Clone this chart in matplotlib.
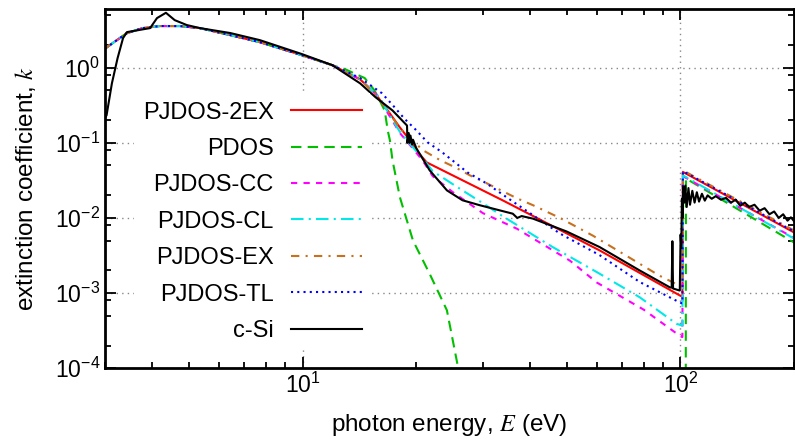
import numpy as np
import matplotlib
matplotlib.use('Agg')
import matplotlib.pyplot as plt
from matplotlib.ticker import LogLocator, NullFormatter

plt.rcParams['font.family'] = ['Liberation Sans', 'DejaVu Sans']
plt.rcParams['mathtext.fontset'] = 'stix'

# common part of the model curves, 3 - 12 eV
E_base = [3.0, 3.43, 3.78, 4.19, 4.73, 5.35, 6.43, 7.71, 9.96, 12.0]
k_base = [1.80, 2.89, 3.37, 3.59, 3.59, 3.37, 2.72, 2.19, 1.47, 1.08]

# model tails below the Si L edge
E_2ex = [14.2, 15.6, 16.8, 18.1, 19.2, 20.0, 21.3, 33.9, 61.1, 99.6, 101.0]
k_2ex = [0.70, 0.45, 0.27, 0.16, 0.11, 0.08, 0.055, 0.0171, 0.0037, 0.00093, 0.0009]
E_pdos = [13.0, 14.0, 14.6, 15.5, 16.5, 16.8, 17.03, 17.3, 18.1, 19.6, 21.7, 24.1, 25.8, 26.3]
k_pdos = [0.95, 0.80, 0.73, 0.50, 0.27, 0.147, 0.108, 0.0586, 0.0188, 0.0050, 0.0018, 0.00059, 0.000102, 0.00007]
E_cc = [14.2, 16.0, 16.8, 18.1, 19.2, 20.8, 22.1, 25.0, 30.0, 36.9, 51.0, 60.1, 80.0, 99.6, 101.0]
k_cc = [0.70, 0.40, 0.25, 0.135, 0.095, 0.058, 0.036, 0.022, 0.0116, 0.0072, 0.0027, 0.00138, 0.0006, 0.00027, 0.00026]
E_cl = [14.2, 16.0, 16.8, 18.1, 19.2, 20.8, 22.1, 25.6, 30.0, 33.9, 45.9, 60.1, 78.0, 97.6, 101.0]
k_cl = [0.70, 0.40, 0.26, 0.14, 0.098, 0.062, 0.042, 0.026, 0.0157, 0.0105, 0.0041, 0.0019, 0.00088, 0.00039, 0.00037]
E_ex = [14.2, 15.6, 16.8, 18.1, 20.8, 23.1, 25.6, 27.7, 30.7, 36.9, 40.7, 48.0, 58.7, 88.1, 99.6, 101.0]
k_ex = [0.70, 0.44, 0.27, 0.156, 0.08, 0.059, 0.046, 0.037, 0.029, 0.0183, 0.0148, 0.0100, 0.0058, 0.0017, 0.00125, 0.0012]
E_tl = [14.2, 16.2, 17.3, 18.6, 20.0, 21.4, 23.4, 25.3, 27.3, 30.7, 34.7, 48.0, 61.1, 78.1, 99.6, 101.0]
k_tl = [0.73, 0.46, 0.32, 0.21, 0.147, 0.102, 0.075, 0.055, 0.0405, 0.0288, 0.0188, 0.0062, 0.0032, 0.0014, 0.00075, 0.00073]

# above the edge (models jump up vertically at the edge)
E_post = [101.2, 101.5, 200.0]
k_post_2ex = [0.0009, 0.041, 0.0064]
k_post_cc = [0.00026, 0.036, 0.0054]
k_post_cl = [0.00037, 0.037, 0.0053]
k_post_ex = [0.0012, 0.043, 0.0068]
k_post_tl = [0.00073, 0.042, 0.0066]
E_post_pdos = [103.3, 103.4, 200.0]
k_post_pdos = [0.00005, 0.0335, 0.0047]

# measured c-Si
E_si = [3.0, 3.03, 3.13, 3.24, 3.35, 3.43, 3.95, 4.12, 4.35, 4.59, 4.94, 5.35, 6.43, 7.71,
        9.96, 12.0, 14.2, 15.6, 17.3, 18.9, 18.95, 19.1, 19.2, 19.3, 19.5, 19.6, 20.0,
        21.7, 24.1, 26.5, 29.4, 33.3, 36.0, 37.0, 38.0, 40.7, 50.0, 61.1, 78.0, 93.8,
        94.8, 95.2, 95.6, 99.6, 100.1, 100.5, 100.9, 101.3, 101.8, 102.4, 103.0, 103.9,
        105.0, 106.0, 107.5, 109.0, 110.5, 112.0, 114.0, 116.0, 118.0, 121.0, 124.0,
        128.0, 132.0, 136.0, 140.0, 144.0, 148.0, 152.0, 157.0, 162.0, 167.0, 172.0,
        177.0, 182.0, 187.0, 192.0, 196.0, 200.0]
k_si = [0.213, 0.233, 0.62, 1.34, 2.48, 2.98, 3.37, 4.58, 5.39, 4.3, 3.7, 3.37, 2.9, 2.33,
        1.52, 1.08, 0.62, 0.405, 0.27, 0.17, 0.10, 0.135, 0.10, 0.125, 0.095, 0.11, 0.085,
        0.043, 0.0233, 0.0172, 0.0148, 0.0126, 0.0114, 0.0100, 0.0106, 0.0098, 0.0066, 0.0041,
        0.0020, 0.00119, 0.00118, 0.0049, 0.00115, 0.00108, 0.006, 0.004, 0.018, 0.010, 0.026,
        0.016, 0.027, 0.014, 0.025, 0.015, 0.023, 0.016, 0.022, 0.0165, 0.021, 0.017, 0.020,
        0.018, 0.0195, 0.0175, 0.0185, 0.016, 0.0175, 0.0145, 0.016, 0.014, 0.015, 0.0125,
        0.0135, 0.0112, 0.0122, 0.0100, 0.0112, 0.0092, 0.0102, 0.0090]

labels = ['PJDOS-2EX', 'PDOS', 'PJDOS-CC', 'PJDOS-CL', 'PJDOS-EX', 'PJDOS-TL', 'c-Si']
colors = ['#ff0000', '#00c000', '#ff00ff', '#00e8e8', '#c8701e', '#0000ff', '#000000']
styles = ['-', (0, (5, 3)), (0, (3, 3)), (0, (6, 2.5, 1, 2.5)), (0, (4, 3, 1, 3)), (0, (1, 2)), '-']


def join(E_pre, k_pre, E_post, k_post):
    # pdos drops out below the axis before the edge, the others connect through it
    gap = [np.nan] if E_post[0] > 103 else []
    E = E_base + E_pre + gap + E_post
    k = k_base + k_pre + gap + k_post
    return E, k


curves = [
    join(E_2ex, k_2ex, E_post, k_post_2ex),
    join(E_pdos, k_pdos, E_post_pdos, k_post_pdos),
    join(E_cc, k_cc, E_post, k_post_cc),
    join(E_cl, k_cl, E_post, k_post_cl),
    join(E_ex, k_ex, E_post, k_post_ex),
    join(E_tl, k_tl, E_post, k_post_tl),
    (E_si, k_si),
]

fig = plt.figure(figsize=(7.95, 4.42), dpi=100)
ax = fig.add_axes([0.132, 0.167, 0.867, 0.812])

for (E, k), lab, c, ls in zip(curves, labels, colors, styles):
    ax.plot(E, k, color=c, ls=ls, lw=1.5, label=lab)

ax.set_xscale('log')
ax.set_yscale('log')
ax.set_xlim(3.0, 200)
ax.set_ylim(1e-4, 6)

ax.yaxis.set_minor_locator(LogLocator(base=10, subs=[2, 5, 8]))
ax.yaxis.set_minor_formatter(NullFormatter())
ax.xaxis.set_minor_formatter(NullFormatter())
ax.tick_params(which='both', direction='in', top=True, right=True, labelsize=16.5)
ax.tick_params(which='major', length=8, width=1.3)
ax.tick_params(which='minor', length=4.5, width=1.3)
for s in ax.spines.values():
    s.set_linewidth(2)
ax.grid(True, which='major', ls=(0, (1, 3)), color='#888888', lw=1)

ax.set_xlabel('photon energy, $E$ (eV)', fontsize=17.5, labelpad=10)
ax.set_ylabel('extinction coefficient, $k$', fontsize=17.5, labelpad=12)

leg = ax.legend(loc='upper right', bbox_to_anchor=(0.385, 0.766), fontsize=17,
                markerfirst=False, frameon=True, fancybox=False, edgecolor='none',
                facecolor='white', framealpha=1, handlelength=3.0, handletextpad=0.75,
                labelspacing=0.61, borderpad=0.35, borderaxespad=0)

fig.savefig('out.png', dpi=100)
